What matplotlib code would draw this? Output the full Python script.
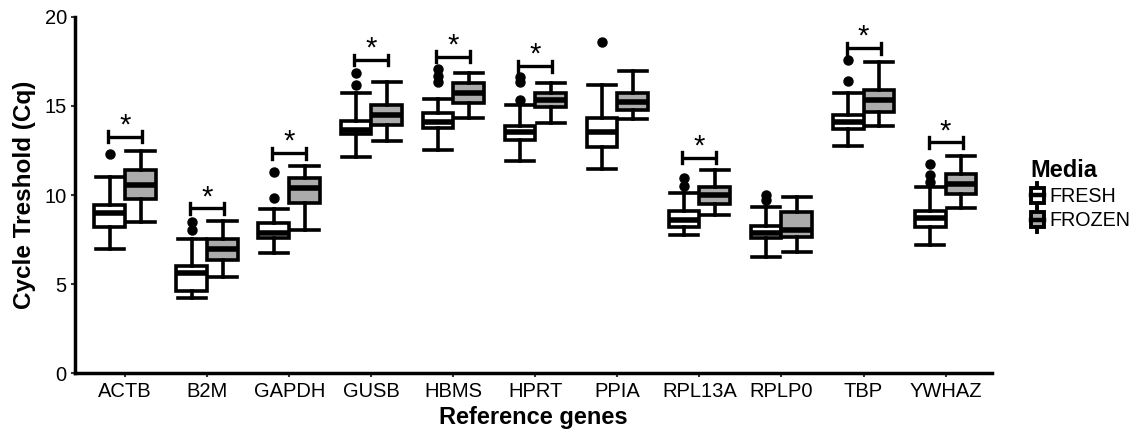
import numpy as np
import matplotlib
matplotlib.use("Agg")
import matplotlib.pyplot as plt
from matplotlib.legend_handler import HandlerBase
from matplotlib.patches import Patch, Rectangle
from matplotlib.lines import Line2D

plt.rcParams['font.family'] = ['Liberation Sans', 'DejaVu Sans']

## Data
genes = ["ACTB", "B2M", "GAPDH", "GUSB", "HBMS", "HPRT", "PPIA",
         "RPL13A", "RPLP0", "TBP", "YWHAZ"]

# FRESH
fresh_lo  = [6.95, 4.20, 6.73, 12.15, 12.52, 11.90, 11.46, 7.76, 6.54, 12.75, 7.20]
fresh_q1  = [8.22, 4.63, 7.57, 13.40, 13.74, 13.09, 12.71, 8.22, 7.57, 13.68, 8.22]
fresh_med = [8.97, 5.60, 7.85, 13.65, 14.11, 13.55, 13.51, 8.60, 7.89, 14.11, 8.69]
fresh_q3  = [9.44, 6.02, 8.45, 14.17, 14.62, 13.87, 14.34, 9.12, 8.28, 14.52, 9.12]
fresh_hi  = [11.00, 7.51, 9.21, 15.70, 15.37, 15.05, 16.17, 10.10, 9.35, 15.74, 10.47]
fresh_out = [[12.3], [8.04, 8.50], [9.81, 11.30], [16.17, 16.83],
             [16.35, 16.67, 17.10], [15.33, 16.35, 16.64], [18.60],
             [10.52, 10.94], [9.72, 10.00], [16.42, 17.57],
             [10.75, 11.12, 11.74]]

# FROZEN
frozen_lo  = [8.50, 5.42, 8.04, 13.05, 14.30, 14.06, 14.26, 8.88, 6.82, 13.87, 9.25]
frozen_q1  = [9.78, 6.35, 9.53, 13.93, 15.14, 14.95, 14.77, 9.48, 7.67, 14.67, 10.06]
frozen_med = [10.56, 7.00, 10.37, 14.49, 15.70, 15.33, 15.24, 10.00, 8.04, 15.33, 10.62]
frozen_q3  = [11.40, 7.51, 10.97, 15.03, 16.30, 15.74, 15.74, 10.43, 9.07, 15.89, 11.16]
frozen_hi  = [12.48, 8.54, 11.64, 16.35, 16.86, 16.30, 16.95, 11.40, 9.87, 17.48, 12.19]
frozen_out = [[] for g in genes]

# significance brackets
significant = [True, True, True, True, True, True, False, True, False, True, True]
bracket_y = [13.27, 9.25, 12.34, 17.57, 17.76, 17.23, 0, 12.10, 0, 18.23, 12.95]

media = ["FRESH", "FROZEN"]
colors = ["white", "#ababab"]


def make_stats(lo, q1, med, q3, hi, out):
    stats = []
    for i in range(len(lo)):
        stats.append({"whislo": lo[i], "q1": q1[i], "med": med[i],
                      "q3": q3[i], "whishi": hi[i], "fliers": out[i]})
    return stats


class BoxKeyHandler(HandlerBase):
    # small boxplot glyph for the legend key
    def create_artists(self, legend, orig_handle, xdescent, ydescent,
                       width, height, fontsize, trans):
        x0, y0 = -xdescent, -ydescent
        cx = x0 + width / 2
        whisk = Line2D([cx, cx], [y0 - 0.2 * height, y0 + 1.2 * height],
                       color="black", lw=2.8, transform=trans)
        box = Rectangle((x0 + 0.08 * width, y0 + 0.08 * height), 0.84 * width, 0.84 * height,
                        facecolor=orig_handle.get_facecolor(), edgecolor="black",
                        lw=2.8, transform=trans)
        med = Line2D([x0 + 0.08 * width, x0 + 0.92 * width], [y0 + 0.5 * height] * 2,
                     color="black", lw=3.2, transform=trans)
        return [whisk, box, med]


fig = plt.figure(figsize=(11.38, 4.32), dpi=100)
ax = fig.add_axes([0.066, 0.136, 0.806, 0.825])

x = np.arange(len(genes))
bw = 0.375
offsets = [-bw / 2, bw / 2]
all_stats = [make_stats(fresh_lo, fresh_q1, fresh_med, fresh_q3, fresh_hi, fresh_out),
             make_stats(frozen_lo, frozen_q1, frozen_med, frozen_q3, frozen_hi, frozen_out)]

for k in range(2):
    ax.bxp(all_stats[k], positions=x + offsets[k], widths=bw, capwidths=bw * 0.92,
           patch_artist=True, manage_ticks=False,
           boxprops=dict(facecolor=colors[k], edgecolor="black", linewidth=2.6),
           medianprops=dict(color="black", linewidth=4, solid_capstyle="butt"),
           whiskerprops=dict(color="black", linewidth=2.6),
           capprops=dict(color="black", linewidth=2.6),
           flierprops=dict(marker="o", markerfacecolor="black", markeredgecolor="black",
                           markersize=6.5))

# significance brackets with stars
for i in range(len(genes)):
    if not significant[i]:
        continue
    xa, xb = x[i] + offsets[0] - 0.02, x[i] + offsets[1] + 0.02
    ax.plot([xa, xb], [bracket_y[i]] * 2, color="black", lw=2.4, solid_capstyle="butt")
    ax.plot([xa, xa], [bracket_y[i] - 0.3, bracket_y[i] + 0.3], color="black", lw=2.4)
    ax.plot([xb, xb], [bracket_y[i] - 0.3, bracket_y[i] + 0.3], color="black", lw=2.4)
    ax.text(x[i], bracket_y[i] - 0.15, "*", ha="center", va="bottom", fontsize=21)

ax.set_xlim(-0.61, 10.57)
ax.set_ylim(0, 20)
ax.set_xticks(x)
ax.set_xticklabels(genes)
ax.set_yticks([0, 5, 10, 15, 20])
ax.tick_params(axis="both", labelsize=14.5, length=3, width=1.5, colors="#333333",
               labelcolor="black", pad=3)
for s in ["top", "right"]:
    ax.spines[s].set_visible(False)
for s in ["left", "bottom"]:
    ax.spines[s].set_linewidth(2.5)
ax.set_xlabel("Reference genes", fontsize=17, fontweight="bold", labelpad=4)
ax.set_ylabel("Cycle Treshold (Cq)", fontsize=17.5, fontweight="bold", labelpad=6)

handles = [Patch(facecolor=colors[k], edgecolor="black") for k in range(2)]
leg = fig.legend(handles, media, loc="upper left", bbox_to_anchor=(0.893, 0.664),
                 frameon=False, fontsize=14.2, title="Media",
                 title_fontproperties={"weight": "bold", "size": 17},
                 alignment="left", handlelength=0.75, handleheight=0.95,
                 handletextpad=0.25, labelspacing=0.25, borderpad=0.2,
                 handler_map={Patch: BoxKeyHandler()})

fig.savefig("out.png", dpi=100)
